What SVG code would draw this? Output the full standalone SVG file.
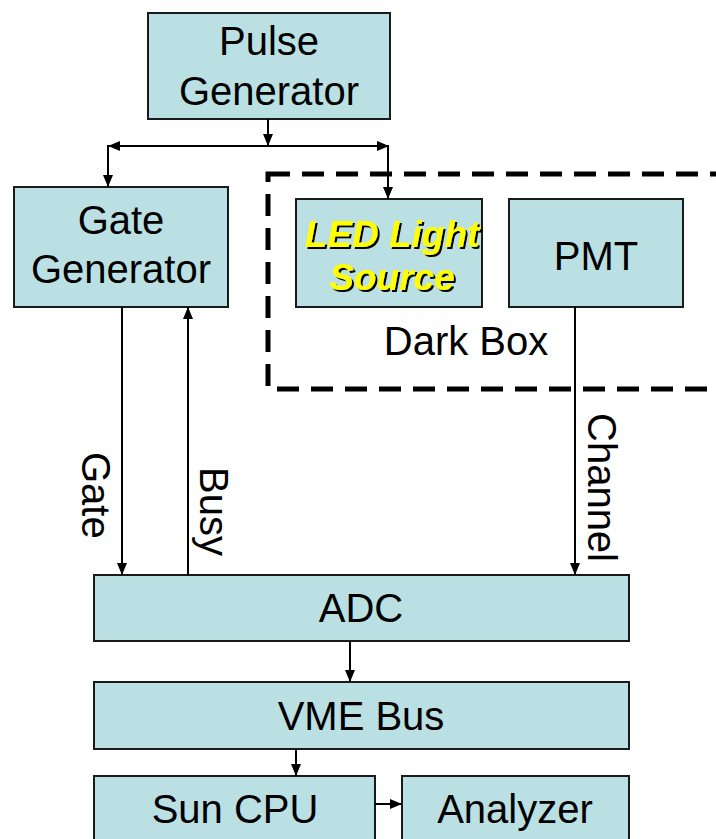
<svg xmlns="http://www.w3.org/2000/svg" width="716" height="839" viewBox="0 0 716 839">
<style>
.box{fill:#BBE0E3;stroke:#1a1a1a;stroke-width:2}
.t{font-family:"Liberation Sans",Arial,sans-serif;font-size:40px;fill:#000;text-anchor:middle}
.lbl{font-family:"Liberation Sans",Arial,sans-serif;font-size:40px;fill:#000}
.led{font-family:"Liberation Sans",Arial,sans-serif;font-size:37px;font-weight:bold;font-style:italic;text-anchor:middle;fill:#FFFF00}
.ln{fill:none;stroke:#000;stroke-width:2}
</style>
<defs>
<marker id="ah" viewBox="0 0 12 10" refX="12" refY="5" markerWidth="12" markerHeight="10" markerUnits="userSpaceOnUse" orient="auto">
<path d="M0,0 L12,5 L0,10 Z" fill="#000"/>
</marker>
<filter id="sh" x="-10%" y="-20%" width="130%" height="150%">
<feOffset in="SourceAlpha" dx="2" dy="2" result="o"/>
<feMerge><feMergeNode in="o"/><feMergeNode in="SourceGraphic"/></feMerge>
</filter>
</defs>
<rect width="716" height="839" fill="#fff"/>
<g id="darkbox">
<rect x="268" y="174" width="520" height="215" fill="none" stroke="#000" stroke-width="5" stroke-dasharray="22 12"/>
<text class="t" x="466" y="355">Dark Box</text>
</g>
<g id="pulse">
<rect class="box" x="148" y="13" width="242" height="106"/>
<text class="t" x="269" y="55">Pulse</text>
<text class="t" x="269" y="105">Generator</text>
</g>
<g id="gategen">
<rect class="box" x="14" y="187" width="214" height="120"/>
<text class="t" x="121" y="234">Gate</text>
<text class="t" x="121" y="283">Generator</text>
</g>
<g id="led">
<rect class="box" x="296" y="199" width="186" height="108"/>
<text class="led" x="392" y="247" filter="url(#sh)">LED Light</text>
<text class="led" x="392" y="290" filter="url(#sh)">Source</text>
</g>
<g id="pmt">
<rect class="box" x="509" y="199" width="174" height="108"/>
<text class="t" x="596" y="270">PMT</text>
</g>
<g id="adc">
<rect class="box" x="94" y="575" width="535" height="66"/>
<text class="t" x="361" y="622">ADC</text>
</g>
<g id="vme">
<rect class="box" x="94" y="682" width="535" height="67"/>
<text class="t" x="361" y="730">VME Bus</text>
</g>
<g id="suncpu">
<rect class="box" x="94" y="776" width="281" height="80"/>
<text class="t" x="235" y="823">Sun CPU</text>
</g>
<g id="analyzer">
<rect class="box" x="402" y="776" width="227" height="80"/>
<text class="t" x="515" y="823">Analyzer</text>
</g>
<g id="connectors">
<line class="ln" x1="268" y1="119" x2="268" y2="146" marker-end="url(#ah)"/>
<line class="ln" x1="268" y1="146" x2="108" y2="146" marker-end="url(#ah)"/>
<line class="ln" x1="268" y1="146" x2="389" y2="146" marker-end="url(#ah)"/>
<line class="ln" x1="108" y1="145" x2="108" y2="187" marker-end="url(#ah)"/>
<line class="ln" x1="388" y1="145" x2="388" y2="199" marker-end="url(#ah)"/>
<line class="ln" x1="122" y1="307" x2="122" y2="575" marker-end="url(#ah)"/>
<line class="ln" x1="188" y1="575" x2="188" y2="307" marker-end="url(#ah)"/>
<line class="ln" x1="575" y1="307" x2="575" y2="575" marker-end="url(#ah)"/>
<line class="ln" x1="350" y1="641" x2="350" y2="682" marker-end="url(#ah)"/>
<line class="ln" x1="296" y1="749" x2="296" y2="776" marker-end="url(#ah)"/>
<line class="ln" x1="375" y1="804" x2="402" y2="804" marker-end="url(#ah)"/>
<text class="lbl" transform="translate(82,452) rotate(90)">Gate</text>
<text class="lbl" transform="translate(200,467) rotate(90)">Busy</text>
<text class="lbl" transform="translate(588,413) rotate(90)">Channel</text>
</g>
</svg>
